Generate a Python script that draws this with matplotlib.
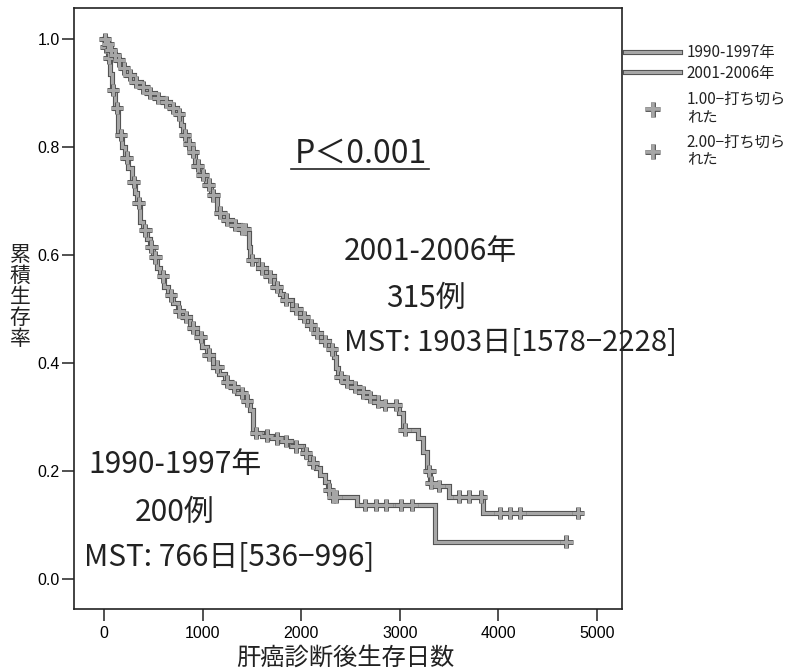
import numpy as np
import matplotlib
matplotlib.use("Agg")
import matplotlib.pyplot as plt
from matplotlib.lines import Line2D
import matplotlib.patheffects as pe

plt.rcParams["font.family"] = ["Noto Sans CJK JP", "DejaVu Sans"]

# Kaplan-Meier estimates: event times (days) and survival after each step
t_1990 = [0, 15, 35, 60, 85, 110, 145, 180, 215, 245, 285, 310, 335, 365, 400,
          435, 467, 500, 540, 570, 610, 650, 700, 750, 805, 875, 945, 990, 1040,
          1110, 1170, 1230, 1290, 1350, 1420, 1485, 1515, 1600, 1700, 1790, 1900,
          2020, 2060, 2090, 2150, 2195, 2240, 2270, 2300, 2570, 3355]
s_1990 = [1.0, 0.985, 0.965, 0.935, 0.905, 0.872, 0.822, 0.80, 0.78, 0.76, 0.735,
          0.715, 0.696, 0.66, 0.645, 0.63, 0.615, 0.595, 0.575, 0.56, 0.54, 0.525,
          0.51, 0.495, 0.485, 0.465, 0.448, 0.43, 0.415, 0.393, 0.38, 0.365, 0.355,
          0.344, 0.33, 0.313, 0.27, 0.265, 0.26, 0.255, 0.245, 0.233, 0.225, 0.215,
          0.205, 0.193, 0.18, 0.165, 0.152, 0.137, 0.069]
cens_1990 = [20, 50, 90, 130, 170, 230, 300, 350, 420, 480, 520, 600, 680, 760,
             830, 900, 980, 1060, 1150, 1250, 1320, 1400, 1450, 1540, 1650, 1750,
             1850, 1950, 2050, 2120, 2280, 2320, 2350, 2650, 2755, 2865, 3010, 3120,
             4690]
end_1990 = 4690

t_2001 = [0, 20, 50, 90, 130, 180, 235, 300, 370, 440, 520, 600, 670, 740, 780,
          805, 840, 875, 925, 975, 1030, 1080, 1150, 1220, 1300, 1380, 1450, 1470,
          1485, 1560, 1640, 1720, 1780, 1820, 1903, 1990, 2060, 2125, 2200, 2280,
          2330, 2350, 2370, 2430, 2500, 2590, 2670, 2740, 2800, 2990, 3030, 3180,
          3240, 3280, 3310, 3330, 3500, 3840]
s_2001 = [1.0, 0.99, 0.98, 0.97, 0.96, 0.945, 0.933, 0.92, 0.91, 0.90, 0.89,
          0.883, 0.872, 0.86, 0.84, 0.822, 0.805, 0.79, 0.765, 0.748, 0.73, 0.71,
          0.678, 0.665, 0.655, 0.648, 0.64, 0.615, 0.59, 0.575, 0.56, 0.54, 0.528,
          0.517, 0.50, 0.485, 0.47, 0.455, 0.44, 0.425, 0.41, 0.39, 0.374, 0.365,
          0.355, 0.345, 0.337, 0.328, 0.322, 0.307, 0.276, 0.261, 0.235, 0.20,
          0.178, 0.172, 0.152, 0.122]
cens_2001 = [10, 40, 70, 110, 150, 200, 260, 320, 400, 470, 550, 630, 700, 760,
             820, 860, 900, 950, 1000, 1060, 1110, 1180, 1250, 1330, 1400, 1430,
             1500, 1600, 1680, 1750, 1850, 1950, 2030, 2100, 2160, 2240, 2310,
             2400, 2460, 2550, 2630, 2700, 2780, 2850, 2960, 3050, 3300, 3320,
             3400, 3600, 3700, 3820, 4020, 4120, 4220, 4810]
end_2001 = 4810

x_ticks = [0, 1000, 2000, 3000, 4000, 5000]
y_ticks = [0.0, 0.2, 0.4, 0.6, 0.8, 1.0]

FILL = "#a6a6a6"
EDGE = "#525252"
LW = 2.2
effects = [pe.Stroke(linewidth=LW + 1.5, foreground=EDGE), pe.Normal()]
mark_effects = [pe.Stroke(linewidth=2.2 + 1.3, foreground=EDGE), pe.Normal()]
INK = "#222222"

fig = plt.figure(figsize=(7.94, 6.72), dpi=100)
ax = fig.add_axes([74 / 794, 1 - 609 / 672, (622 - 74) / 794, (609 - 8) / 672])


def km_curve(times, surv, cens, end):
    times = np.asarray(times, float)
    surv = np.asarray(surv, float)
    xs = np.append(times, end)
    ys = np.append(surv, surv[-1])
    ax.step(xs, ys, where="post", color=FILL, lw=LW, path_effects=effects,
            solid_joinstyle="miter", zorder=3)
    cens = np.asarray(cens, float)
    idx = np.searchsorted(times, cens, side="right") - 1
    ax.plot(cens, surv[idx], ls="none", marker="+", ms=9, mew=2.2, color=FILL,
            path_effects=mark_effects, zorder=4)


km_curve(t_1990, s_1990, cens_1990, end_1990)
km_curve(t_2001, s_2001, cens_2001, end_2001)

ax.set_xlim(-305, 5254)
ax.set_ylim(-0.056, 1.057)
ax.set_xticks(x_ticks)
ax.set_xticklabels([str(v) for v in x_ticks])
ax.set_yticks(y_ticks)
ax.set_yticklabels([f"{v:.1f}" for v in y_ticks])
for lab in ax.get_xticklabels() + ax.get_yticklabels():
    lab.set_family("Liberation Sans")
    lab.set_fontsize(11.5)
ax.tick_params(direction="out", length=8.3, width=1.1, color=INK)
ax.tick_params(axis="x", pad=4)
ax.tick_params(axis="y", pad=2)
for sp in ax.spines.values():
    sp.set_linewidth(1.2)
    sp.set_color(INK)

# annotations
txt_kw = dict(ha="center", va="center", color=INK, fontsize=21.5)
p_txt = ax.text(2602, 0.787, "P＜0.001", ha="center", va="center",
                color=INK, fontsize=23)
ax.text(3313, 0.606, "2001-2006年", **txt_kw)
ax.text(3262, 0.52, "315例", **txt_kw)
ax.text(2430, 0.437, "MST: 1903日[1578−2228]", ha="left", va="center",
        color=INK, fontsize=21)
ax.text(720, 0.211, "1990-1997年", **txt_kw)
ax.text(720, 0.122, "200例", **txt_kw)
ax.text(-200, 0.041, "MST: 766日[536−996]", ha="left", va="center",
        color=INK, fontsize=21.5)

# axis labels
fig.text(345 / 794, 1 - 658 / 672, "肝癌診断後生存日数", ha="center", va="center",
         fontsize=17.5, color=INK)
fig.text(20 / 794, 1 - 297 / 672, "累\n積\n生\n存\n率", ha="center", va="center",
         fontsize=15, linespacing=0.95, color=INK)

# legend: survival lines, then censoring marks
h_a = Line2D([], [], color=FILL, lw=LW, path_effects=effects)
h_b = Line2D([], [], color=FILL, lw=LW, path_effects=effects)
h_c = Line2D([], [], ls="none", marker="+", ms=11, mew=2.6, color=FILL,
             path_effects=mark_effects)
h_d = Line2D([], [], ls="none", marker="+", ms=11, mew=2.6, color=FILL,
             path_effects=mark_effects)
leg_kw = dict(loc="upper left", frameon=False, fontsize=11, handlelength=3.6,
              handletextpad=0.45, borderaxespad=0, borderpad=0)
leg1 = fig.legend([h_a, h_b], ["1990-1997年", "2001-2006年"],
                  bbox_to_anchor=(625 / 794, 1 - 44 / 672), labelspacing=0.25,
                  **leg_kw)
leg2 = fig.legend([h_c, h_d], ["1.00−打ち切ら\nれた", "2.00−打ち切ら\nれた"],
                  bbox_to_anchor=(625 / 794, 1 - 91 / 672), labelspacing=0.55,
                  **leg_kw)
for leg in (leg1, leg2):
    for t in leg.get_texts():
        t.set_linespacing(1.0)
        t.set_color(INK)

# underline beneath the p-value, sized from the rendered text
fig.canvas.draw()
bb = p_txt.get_window_extent(fig.canvas.get_renderer())
inv = ax.transData.inverted()
(x0, y0), (x1, _) = inv.transform([(bb.x0 - 3, bb.y0 + 1), (bb.x1 + 2, bb.y0 + 1)])
ax.plot([x0, x1], [y0, y0], color=INK, lw=1.2)

fig.savefig("out.png", dpi=100)
